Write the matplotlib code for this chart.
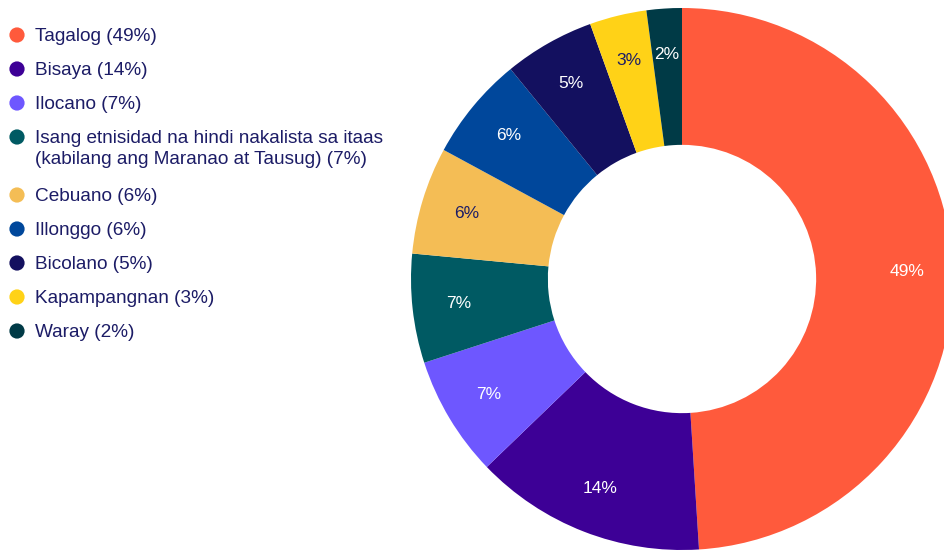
import matplotlib
matplotlib.use("Agg")
import matplotlib.pyplot as plt

plt.rcParams["font.family"] = ["Liberation Sans", "DejaVu Sans"]

# data (slice shares)
names = ["Tagalog (49%)", "Bisaya (14%)", "Ilocano (7%)",
         "Isang etnisidad na hindi nakalista sa itaas\n(kabilang ang Maranao at Tausug) (7%)",
         "Cebuano (6%)", "Illonggo (6%)", "Bicolano (5%)", "Kapampangnan (3%)", "Waray (2%)"]
shares = [49.0, 13.8, 7.2, 6.5, 6.4, 6.2, 5.4, 3.4, 2.1]
pct_text = ["49%", "14%", "7%", "7%", "6%", "6%", "5%", "3%", "2%"]
colors = ["#ff5a3c", "#3d0096", "#6e57ff", "#005a63", "#f4bd55",
          "#00479b", "#13105f", "#ffd217", "#003a46"]
label_colors = ["white", "white", "white", "white", "#1c1c66",
                "white", "white", "#1c1c66", "white"]
NAVY = "#1c1c66"

W, H = 945, 550
fig = plt.figure(figsize=(W/100, H/100), dpi=100)

# donut: centre (682, 279) px from top-left, outer radius 271 px
cx, cy, R = 682, 279, 271
ax = fig.add_axes([(cx-R)/W, (H-cy-R)/H, 2*R/W, 2*R/H])
wedges, texts = ax.pie(shares, labels=pct_text, colors=colors, startangle=90,
                       counterclock=False, radius=1.0, labeldistance=0.83,
                       wedgeprops=dict(width=0.505, linewidth=0),
                       textprops=dict(fontsize=12.5))
for t, c in zip(texts, label_colors):
    t.set_ha("center"); t.set_va("center"); t.set_color(c)
ax.set_xlim(-1, 1); ax.set_ylim(-1, 1)
ax.set_aspect("equal")
ax.axis("off")

# legend drawn by hand (marker aligned with first line of each entry)
lax = fig.add_axes([0, 0, 1, 1], zorder=-1)
lax.set_xlim(0, W); lax.set_ylim(H, 0); lax.axis("off")
y = 35
for name, col in zip(names, colors):
    lax.scatter([17], [y], s=120, color=col, edgecolor="none")
    lax.text(35, y - 7, name, fontsize=13.7, color=NAVY, va="top", ha="left",
             linespacing=1.32)
    y += 34 + name.count("\n") * 24

fig.savefig("out.png", dpi=100)
